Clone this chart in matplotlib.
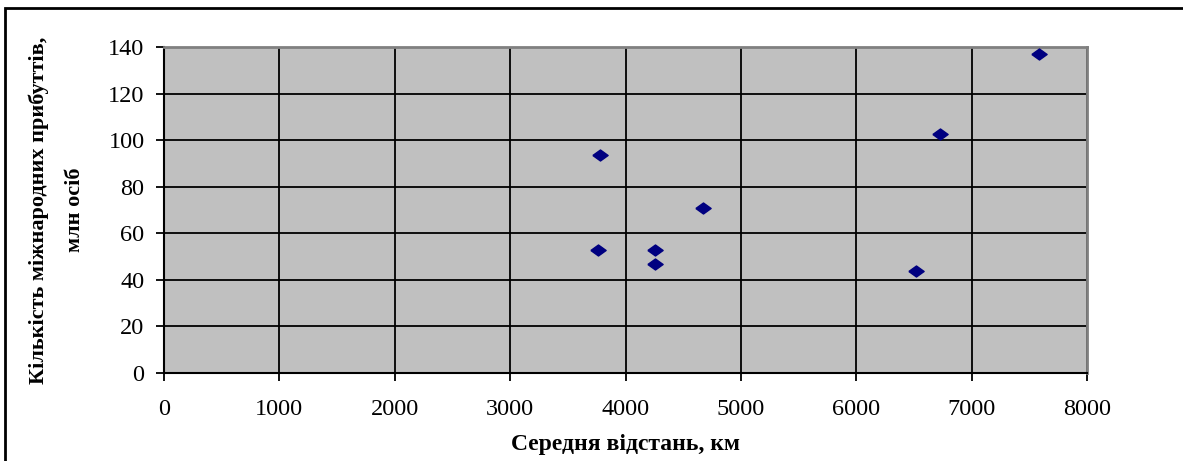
import matplotlib
matplotlib.use("Agg")
import matplotlib.pyplot as plt
from matplotlib.patches import Rectangle

# average distance, km / international arrivals, mln persons
distance_km = [3760, 3780, 4260, 4260, 4670, 6520, 6730, 7580]
arrivals_mln = [53, 93.5, 53, 47, 71, 44, 102.5, 137]

x_ticks = [0, 1000, 2000, 3000, 4000, 5000, 6000, 7000, 8000]
y_ticks = [0, 20, 40, 60, 80, 100, 120, 140]

xlabel = "Середня відстань, км"
ylabel = "Кількість міжнародних прибуттів,\nмлн осіб"

plt.rcParams['font.family'] = ['Liberation Serif', 'DejaVu Serif']

fig = plt.figure(figsize=(11.83, 4.61), dpi=100)
ax = fig.add_axes([164 / 1183, 1 - 373 / 461, (1087 - 164) / 1183, (373 - 47) / 461])

# outer frame of the chart object
fig.patches.append(Rectangle((5 / 1183, -0.2), 1.2, 1.2 - 8 / 461,
                             transform=fig.transFigure, fill=False,
                             edgecolor='black', linewidth=2))

ax.set_facecolor('#c0c0c0')
diamond = [(-1, 0), (0, 0.72), (1, 0), (0, -0.72), (-1, 0)]
ax.plot(distance_km, arrivals_mln, linestyle='none', marker=diamond,
        markersize=11, color='#000080', zorder=3)

ax.set_xlim(0, 8000)
ax.set_ylim(0, 140)
ax.set_xticks(x_ticks)
ax.set_yticks(y_ticks)
ax.grid(True, color='black', linewidth=1.3)
ax.set_axisbelow(True)

for side in ('top', 'right'):
    ax.spines[side].set_color('#808080')
    ax.spines[side].set_linewidth(2)
for side in ('left', 'bottom'):
    ax.spines[side].set_color('black')
    ax.spines[side].set_linewidth(1.5)

ax.tick_params(direction='out', length=6, width=1.3, labelsize=17.5, colors='black')
ax.tick_params(axis='y', pad=8)
ax.tick_params(axis='x', pad=13)

ax.set_xlabel(xlabel, fontsize=17, fontweight='bold', labelpad=10)
ax.set_ylabel(ylabel, fontsize=16, fontweight='bold', labelpad=17, linespacing=2.05)

fig.savefig("out.png", dpi=100)
